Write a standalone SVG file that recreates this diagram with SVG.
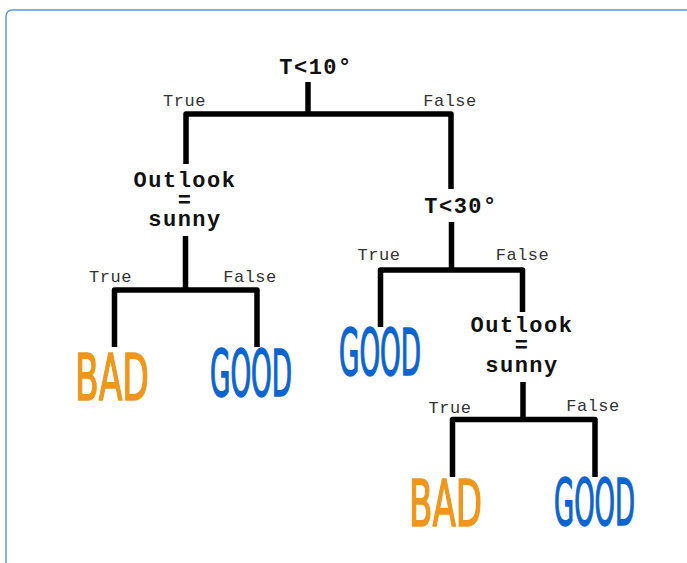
<svg xmlns="http://www.w3.org/2000/svg" width="687" height="563" viewBox="0 0 687 563">
<style>
.frame{fill:#ffffff;stroke:#5b9bdc;stroke-width:1.5}
.edge{fill:none;stroke:#000;stroke-width:5.5;stroke-linejoin:round;stroke-linecap:butt}
.cond{font-family:"Liberation Mono","Courier New",monospace;font-weight:bold;font-size:22px;letter-spacing:1.5px;fill:#111;text-anchor:middle}
.lbl{font-family:"Liberation Mono","Courier New",monospace;font-size:17px;letter-spacing:0.5px;fill:#333;text-anchor:middle}
.hand{font-family:"Liberation Sans Narrow","DejaVu Sans Condensed",sans-serif;font-size:64px;stroke-width:1.6;stroke-linejoin:round}
.bad{fill:#f0961a;stroke:#f0961a}
.good{fill:#0b64d0;stroke:#0b64d0}
</style>
<rect class="frame" x="6" y="10" width="720" height="600" rx="6"/>
<g id="connectors">
<path class="edge" d="M308 82 V114"/>
<path class="edge" d="M186 164 V114 H451 V189"/>
<path class="edge" d="M185.5 236 V290"/>
<path class="edge" d="M114.5 347 V290 H257 V347"/>
<path class="edge" d="M451.5 222 V270"/>
<path class="edge" d="M380.5 327 V270 H522.5 V312"/>
<path class="edge" d="M523 382 V419.5"/>
<path class="edge" d="M452.5 477 V419.5 H595 V477"/>
</g>
<g id="edge-labels">
<text class="lbl" x="184.5" y="106">True</text>
<text class="lbl" x="450" y="106">False</text>
<text class="lbl" x="110.5" y="282">True</text>
<text class="lbl" x="250" y="282">False</text>
<text class="lbl" x="379" y="260">True</text>
<text class="lbl" x="522.5" y="260">False</text>
<text class="lbl" x="450" y="412.5">True</text>
<text class="lbl" x="593" y="411">False</text>
</g>
<g id="node-t10"><text class="cond" x="316" y="74">T&lt;10°</text></g>
<g id="node-outlook1">
<text class="cond" x="185" y="187">Outlook</text>
<text class="cond" x="185" y="207">=</text>
<text class="cond" x="185" y="226">sunny</text>
</g>
<g id="node-bad1"><text class="hand bad" x="75" y="400" textLength="74" lengthAdjust="spacingAndGlyphs">BAD</text></g>
<g id="node-good1"><text class="hand good" x="210" y="396" textLength="82" lengthAdjust="spacingAndGlyphs">GOOD</text></g>
<g id="node-t30"><text class="cond" x="461" y="212.5">T&lt;30°</text></g>
<g id="node-good2"><text class="hand good" x="339" y="375" textLength="82" lengthAdjust="spacingAndGlyphs">GOOD</text></g>
<g id="node-outlook2">
<text class="cond" x="522" y="332">Outlook</text>
<text class="cond" x="522" y="352">=</text>
<text class="cond" x="522" y="372">sunny</text>
</g>
<g id="node-bad2"><text class="hand bad" x="409" y="526" textLength="73" lengthAdjust="spacingAndGlyphs">BAD</text></g>
<g id="node-good3"><text class="hand good" x="554" y="525" textLength="81" lengthAdjust="spacingAndGlyphs">GOOD</text></g>
</svg>
